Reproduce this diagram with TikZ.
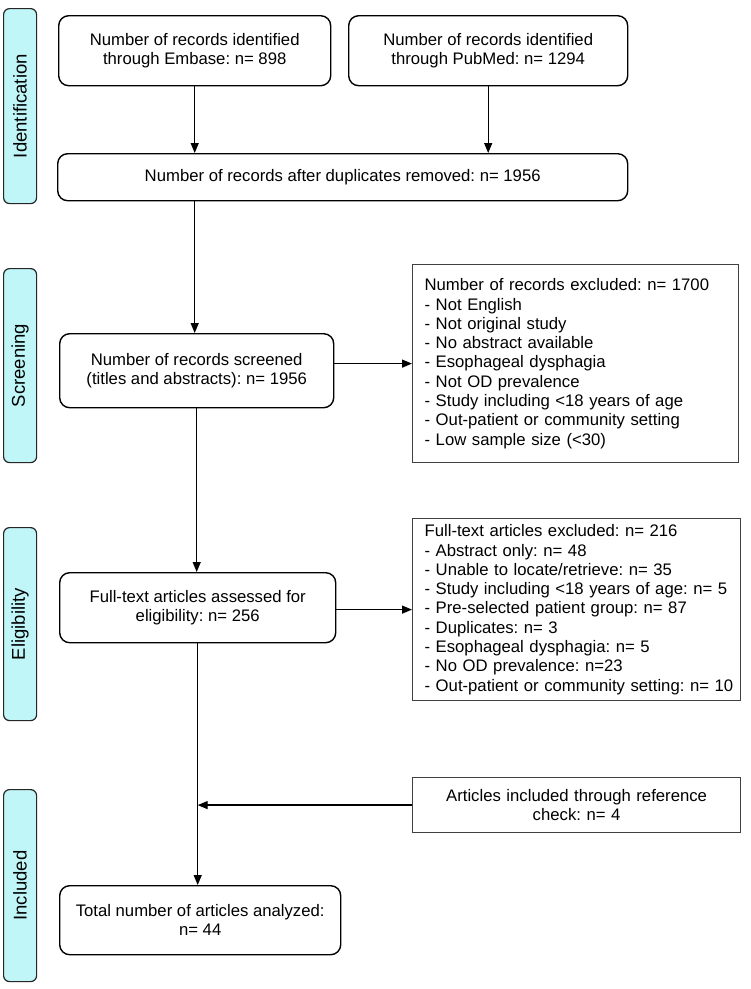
\documentclass[tikz,border=0pt]{standalone}
\usepackage{fontspec}
\setmainfont{Liberation Sans}
\usetikzlibrary{arrows.meta}
\definecolor{phase}{RGB}{192,246,248}
\definecolor{exline}{RGB}{64,64,64}
\frenchspacing
\hbadness=10000 \hfuzz=40pt
\begin{document}
\begin{tikzpicture}[x=1pt,y=1pt,
 font=\fontsize{16.7}{19.3}\selectfont,
 rbox/.style={draw=black, line width=1.4pt, rounded corners=10pt, align=center, inner sep=0pt, anchor=north west},
 ebox/.style={draw=exline, line width=1.2pt, align=left, inner xsep=12pt, inner ysep=0pt, anchor=north west},
 phasebox/.style={draw=black!85, line width=1.2pt, fill=phase, rounded corners=6pt, anchor=north west, inner sep=0pt, minimum width=33pt, font=\fontsize{18.5}{22}\selectfont},
 arr/.style={-{Triangle[length=10pt,width=8pt]}, line width=1.3pt},
]
\fill[white] (0,0) rectangle (751,-989);
\useasboundingbox (0,0) rectangle (751,-989);

% phase labels
\node[phasebox, minimum height=195pt] (pid) at (3,-8) {\rotatebox{90}{Identification}};
\node[phasebox, minimum height=194pt] (psc) at (3,-268) {\rotatebox{90}{Screening}};
\node[phasebox, minimum height=193pt] (pel) at (3,-527) {\rotatebox{90}{Eligibility}};
\node[phasebox, minimum height=192pt] (pin) at (3,-789) {\rotatebox{90}{Included}};

% main boxes
\node[rbox, minimum width=272pt, minimum height=70pt] (emb) at (58,-15) {Number of records identified\\through Embase: n= 898};
\node[rbox, minimum width=279pt, minimum height=70pt] (pub) at (348,-15) {Number of records identified\\through PubMed: n= 1294};
\node[rbox, minimum width=570pt, minimum height=47pt] (dup) at (57,-153) {Number of records after duplicates removed: n= 1956};
\node[rbox, minimum width=274pt, minimum height=74pt] (scr) at (59,-333) {Number of records screened\\(titles and abstracts): n= 1956};
\node[rbox, minimum width=276pt, minimum height=70pt] (full) at (59,-572) {Full-text articles assessed for\\eligibility: n= 256};
\node[rbox, minimum width=281pt, minimum height=69pt] (total) at (59,-885) {Total number of articles analyzed:\\n= 44};

% exclusion boxes
\node[ebox, text width=302pt, minimum height=198pt] (exc1) at (412,-264) {Number of records excluded: n= 1700\\
- Not English\\
- Not original study\\
- No abstract available\\
- Esophageal dysphagia\\
- Not OD prevalence\\
- Study including <18 years of age\\
- Out-patient or community setting\\
- Low sample size (<30)};
\node[ebox, text width=304pt, minimum height=182pt] (exc2) at (412,-518) {Full-text articles excluded: n= 216\\
- Abstract only: n= 48\\
- Unable to locate/retrieve: n= 35\\
\mbox{- Study including <18 years of age: n= 5}\\
- Pre-selected patient group: n= 87\\
- Duplicates: n= 3\\
- Esophageal dysphagia: n= 5\\
- No OD prevalence: n=23\\
\mbox{- Out-patient or community setting: n= 10}};
\node[ebox, align=center, text width=304pt, minimum height=55pt] (ref) at (412,-777) {Articles included through reference\\check: n= 4};

% connectors
\draw[arr] (emb.south) -- (emb.south |- dup.north);
\draw[arr] (pub.south) -- (pub.south |- dup.north);
\draw[arr] (emb.south |- dup.south) -- (emb.south |- scr.north);
\draw[arr] (exc1.west -| scr.east) -- (exc1.west);
\draw[arr] (scr.south) -- (scr.south |- full.north);
\draw[arr] (exc2.west -| full.east) -- (exc2.west);
\draw[arr] (full.south) -- (full.south |- total.north);
\draw[arr] (ref.west) -- (ref.west -| full.south);
\end{tikzpicture}
\end{document}
